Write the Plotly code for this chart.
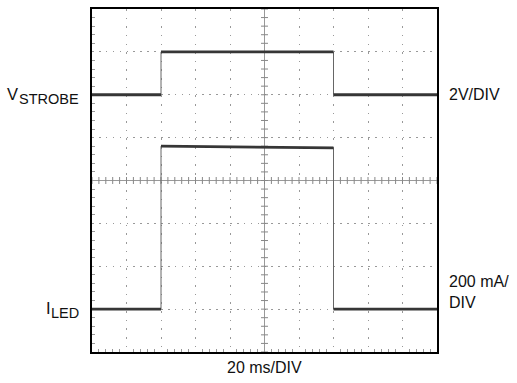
import numpy as np
import plotly.graph_objects as go

# Time axis (ms), 20 ms/div, 10 divisions
t_strobe = [0, 40, 40, 140, 140, 200]
v_strobe = [2, 2, 3, 3, 2, 2]          # in divisions (2 V/div)
t_led = [0, 40, 40, 140, 140, 200]
i_led = [-3, -3, 0.80, 0.76, -3, -3]   # in divisions (200 mA/div)

x_range = [0, 200]
y_range = [-4, 4]
x_minor = 4      # 0.2 div
y_minor = 0.2    # 0.2 div

FONT = "Liberation Sans, Arial, sans-serif"
TRACE_COLOR = "#363636"

def flat_segments(t, v):
    xs, ys = [], []
    for i in range(len(t) - 1):
        if t[i] != t[i + 1]:
            xs += [t[i], t[i + 1], None]
            ys += [v[i], v[i + 1], None]
    return xs, ys

fig = go.Figure()

# center crosshair lines
x_mid = sum(x_range) / 2
y_mid = sum(y_range) / 2
fig.add_shape(type="line", xref="x", yref="y", x0=x_mid, x1=x_mid, y0=y_range[0], y1=y_range[1],
              line=dict(color="#999", width=1), layer="below")
fig.add_shape(type="line", xref="x", yref="y", x0=x_range[0], x1=x_range[1], y0=y_mid, y1=y_mid,
              line=dict(color="#999", width=1), layer="below")

# crosshair tick marks (0.2 div spacing)
xt = np.arange(x_range[0], x_range[1] + 1e-9, x_minor)
yt = np.arange(y_range[0], y_range[1] + 1e-9, y_minor)
fig.add_trace(go.Scatter(x=xt, y=np.full(len(xt), y_mid), mode="markers",
                         marker=dict(symbol="line-ns", size=5, line=dict(color="#888", width=1)),
                         hoverinfo="skip", showlegend=False, cliponaxis=True))
fig.add_trace(go.Scatter(x=np.full(len(yt), x_mid), y=yt, mode="markers",
                         marker=dict(symbol="line-ew", size=5, line=dict(color="#888", width=1)),
                         hoverinfo="skip", showlegend=False, cliponaxis=True))

for t, v in [(t_strobe, v_strobe), (t_led, i_led)]:
    fig.add_trace(go.Scatter(x=t, y=v, mode="lines",
                             line=dict(color="#666", width=1), hoverinfo="skip", showlegend=False))
    fx, fy = flat_segments(t, v)
    fig.add_trace(go.Scatter(x=fx, y=fy, mode="lines",
                             line=dict(color=TRACE_COLOR, width=2.8), hoverinfo="skip", showlegend=False))

grid_col = "#999999"
fig.update_layout(
    width=517, height=383,
    margin=dict(l=92, r=80, t=7, b=31),
    paper_bgcolor="white", plot_bgcolor="white",
    font=dict(family=FONT, size=16, color="#111"),
    xaxis=dict(range=x_range, dtick=20, showgrid=True, gridcolor=grid_col, gridwidth=1,
               griddash="1.6px,7.03px", showticklabels=False, ticks="",
               showline=True, linecolor="black", linewidth=2, mirror=True, zeroline=False,
               minor=dict(dtick=x_minor, ticks="inside", ticklen=3, tickcolor="#999", showgrid=False),
               fixedrange=True),
    yaxis=dict(range=y_range, dtick=1, showgrid=True, gridcolor=grid_col, gridwidth=1,
               griddash="1.6px,5.3px", showticklabels=False, ticks="",
               showline=True, linecolor="black", linewidth=2, mirror=True, zeroline=False,
               minor=dict(dtick=y_minor, ticks="inside", ticklen=3, tickcolor="#999", showgrid=False),
               fixedrange=True),
)

def txt(text, x, y, xanchor, size, xref="paper", yref="y", yshift=0, align="left"):
    fig.add_annotation(text=text, xref=xref, yref=yref, x=x, y=y, xanchor=xanchor,
                       yanchor="middle", yshift=yshift, align=align, showarrow=False,
                       font=dict(family=FONT, size=size, color="#111"))

PW = 345.0  # plot width in px
# left labels (main letter + subscript)
txt("STROBE", -11 / PW, v_strobe[0], "right", 14.5, yshift=-4)
txt("V", -72 / PW, v_strobe[0], "right", 16.5, yshift=1)
txt("LED", -11 / PW, i_led[0], "right", 14.5, yshift=-4)
txt("I", -39 / PW, i_led[0], "right", 16.5, yshift=1)
# right labels
txt("2V/DIV", 1.03, v_strobe[0], "left", 16)
txt("200 mA/<br>DIV", 1.03, -2.6, "left", 16)
# bottom label
txt("20 ms/DIV", 0.5, -0.045, "center", 16, yref="paper")

fig.write_html("out.html", post_script="document.body.style.margin='0';",
               config={"displayModeBar": False})
